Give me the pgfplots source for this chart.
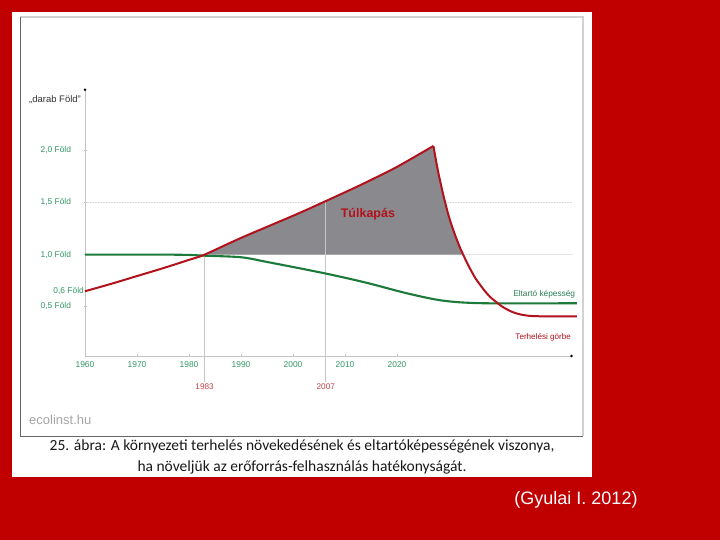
\documentclass[border=0pt]{standalone}
\usepackage{fontspec}
\setmainfont{Liberation Sans}
\newfontfamily\capfont{Carlito}
\usepackage{pgfplots}
\usepackage{pgfplotstable}
\pgfplotsset{compat=1.18}
\usetikzlibrary{arrows.meta}

\definecolor{bgred}{RGB}{192,0,0}
\definecolor{loadred}{RGB}{178,18,28}
\definecolor{capgreen}{RGB}{28,122,58}
\definecolor{tickgreen}{RGB}{48,150,100}
\definecolor{overgray}{RGB}{138,138,142}
\definecolor{axgray}{RGB}{196,196,196}

% terhelesi gorbe, felfuto szakasz
\pgfplotstableread{
year val
1960 0.65
1965 0.72
1970 0.795
1975 0.87
1980 0.95
1983 1.00
1990 1.16
2001.3 1.40
2011 1.62
2015 1.715
2020 1.84
2027 2.04
}\rising

% terhelesi gorbe, leszallo szakasz
\pgfplotstableread{
year val
2027 2.04
2027.5 1.90
2028 1.77
2029 1.55
2030 1.36
2031 1.21
2032 1.08
2033 0.97
2034 0.87
2035 0.78
2036 0.71
2037 0.645
2038 0.59
2039 0.55
2040 0.51
2041 0.48
2042 0.455
2043 0.437
2044 0.425
2045 0.417
2046 0.412
2048 0.41
2054.6 0.41
}\falling

% eltarto kepesseg
\pgfplotstableread{
year val
1960 1.00
1975 1.00
1980 0.997
1983 0.99
1990 0.975
1995 0.93
2006.2 0.82
2014.2 0.73
2021.9 0.63
2028.8 0.56
2036.5 0.535
2054.6 0.535
}\capacity

% tulkapas terulet
\pgfplotstableread{
year val
1983 1.00
1990 1.16
2001.3 1.40
2011 1.62
2015 1.715
2020 1.84
2027 2.04
2027.5 1.90
2028 1.77
2029 1.55
2030 1.36
2031 1.21
2032 1.08
2032.73 1.00
}\overshoot

\begin{document}
\begin{tikzpicture}[x=1pt,y=1pt]
\fill[bgred] (0,0) rectangle (720,540);
\fill[white] (12,63) rectangle (592,528);
\draw[gray!35,line width=1.2pt] (20,523) -- (583,523) -- (583,104);
\draw[gray!80!black,line width=0.8pt] (20,523) -- (20,104) -- (583,104);

\begin{axis}[
    at={(85pt,184pt)}, anchor=south west,
    scale only axis,
    width=487.8pt, height=267.5pt,
    xmin=1960, xmax=2053.8,
    ymin=0.03, ymax=2.59,
    axis x line=bottom, axis y line=left,
    axis line style={axgray, line width=0.8pt, -{Circle[length=2.4pt,color=black]}},
    tick style={axgray, line width=0.6pt},
    major tick length=3pt,
    xtick={1960,1970,1980,1990,2000,2010,2020},
    xticklabels={1960,1970,1980,1990,2000,2010,2020},
    ytick={0.507,1,1.5,2},
    yticklabels={{0,5 Föld},{1,0 Föld},{1,5 Föld},{2,0 Föld}},
    ticklabel style={font=\fontsize{8.4}{9.5}\selectfont, text=tickgreen},
    yticklabel style={xshift=-9pt},
    xticklabel style={yshift=-1pt},
    clip=false,
]
\addplot[gray!30, line width=0.6pt, densely dotted] coordinates {(1960,1.5) (2053.8,1.5)};
\addplot[gray!20, line width=0.6pt] coordinates {(1960,1.0) (2053.8,1.0)};
\addplot[overgray, fill=overgray, draw=none] table[x=year,y=val] {\overshoot};
\addplot[gray!45, line width=0.6pt] coordinates {(1983,1.0) (1983,-0.22)};
\addplot[gray!45, line width=0.6pt] coordinates {(2006.3,1.51) (2006.3,-0.22)};
\addplot[capgreen, line width=2.1pt, smooth] table[x=year,y=val] {\capacity};
\addplot[loadred, line width=2pt, smooth] table[x=year,y=val] {\rising};
\addplot[loadred, line width=2pt, smooth, tension=0.4] table[x=year,y=val] {\falling};

\node[font=\fontsize{8.4}{9.5}\selectfont, text=tickgreen, anchor=east, inner sep=1pt] at (axis cs:1960,0.65) {0,6 Föld};
\node[font=\fontsize{8.2}{9.5}\selectfont, text=loadred!80] at (axis cs:1983,-0.265) {1983};
\node[font=\fontsize{8.2}{9.5}\selectfont, text=loadred!80] at (axis cs:2006.3,-0.265) {2007};
\node[font=\bfseries\fontsize{12.5}{14}\selectfont, text=loadred] at (axis cs:2014.4,1.39) {Túlkapás};
\node[font=\fontsize{8.3}{10}\selectfont, text=tickgreen!85!black] at (axis cs:2048.3,0.62) {Eltartó képesség};
\node[font=\fontsize{8.1}{10}\selectfont, text=loadred] at (axis cs:2048.1,0.21) {Terhelési görbe};
\end{axis}

\node[font=\fontsize{9.5}{11}\selectfont, text=black!80] at (55,440) {„darab Föld”};
\node[font=\fontsize{13}{15}\selectfont, text=gray!70, anchor=west, inner sep=0pt] at (29,120) {ecolinst.hu};
\node[font=\capfont\fontsize{15.5}{18}\selectfont, text=black!90] at (302,94) {25. ábra: A környezeti terhelés növekedésének és eltartóképességének viszonya,};
\node[font=\capfont\fontsize{15.5}{18}\selectfont, text=black!90] at (302,73) {ha növeljük az erőforrás-felhasználás hatékonyságát.};
\node[font=\fontsize{18}{21}\selectfont, text=white] at (576,40) {(Gyulai I. 2012)};
\end{tikzpicture}
\end{document}
